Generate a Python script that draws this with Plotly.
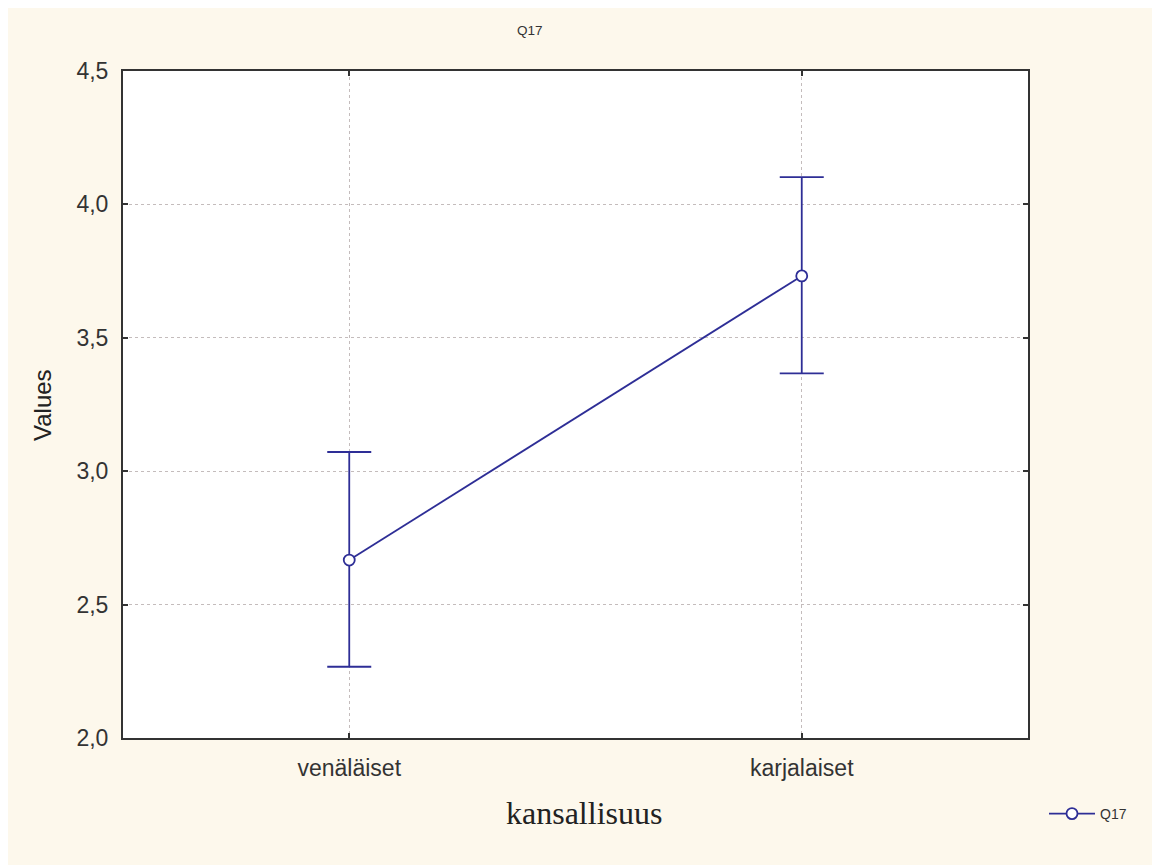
import plotly.graph_objects as go

categories = ["venäläiset", "karjalaiset"]
means = [2.667, 3.732]
err_plus = [0.405, 0.370]
err_minus = [0.400, 0.365]
ytick_vals = [2.0, 2.5, 3.0, 3.5, 4.0, 4.5]
ytick_text = ["2,0", "2,5", "3,0", "3,5", "4,0", "4,5"]
series_name = "Q17"

W, H = 1180, 885
L, T = 115, 63
R, B = W - 1020, H - 730
pw, ph = W - L - R, H - T - B

navy = "#2E2E96"
cream = "#FDF8EC"

fig = go.Figure()
fig.add_trace(go.Scatter(
    x=categories, y=means, name=series_name, mode="lines+markers",
    line=dict(color=navy, width=1.8),
    marker=dict(symbol="circle", size=11, color="white", line=dict(color=navy, width=1.8)),
    error_y=dict(type="data", symmetric=False, array=err_plus, arrayminus=err_minus,
                 color=navy, thickness=1.8, width=22),
))

def px2x(px):
    return (px - L) / pw

def px2y(py):
    return (H - B - py) / ph

fig.update_layout(
    width=W, height=H,
    margin=dict(l=L, r=R, t=T, b=B),
    paper_bgcolor=cream,
    plot_bgcolor="white",
    showlegend=True,
    separators=",.",
    font=dict(family="Liberation Sans, Arial, sans-serif", color="#333333"),
    xaxis=dict(
        type="category", range=[-0.5, 1.5],
        showline=True, linecolor="#333333", linewidth=2, mirror="ticks",
        ticks="inside", ticklen=5, tickcolor="#333333", tickwidth=1.5,
        showgrid=True, gridcolor="#c4bcbc", griddash="dot", gridwidth=1,
        tickfont=dict(size=23, color="#333333"), ticklabelstandoff=8,
        zeroline=False,
    ),
    yaxis=dict(
        range=[2.0, 4.5], tickvals=ytick_vals, ticktext=ytick_text,
        showline=True, linecolor="#333333", linewidth=2, mirror="ticks",
        ticks="inside", ticklen=5, tickcolor="#333333", tickwidth=1.5,
        showgrid=True, gridcolor="#c4bcbc", griddash="dot", gridwidth=1,
        tickfont=dict(size=23, color="#333333"), ticklabelstandoff=8,
        zeroline=False,
    ),
    legend=dict(
        x=px2x(1036), y=px2y(806), xanchor="left", yanchor="middle",
        xref="paper", yref="paper", itemwidth=46,
        bgcolor="rgba(0,0,0,0)", borderwidth=0,
        font=dict(size=14, color="#333333"),
    ),
    annotations=[
        dict(text="Q17", xref="paper", yref="paper", x=px2x(522), y=px2y(23),
             showarrow=False, font=dict(size=13.5, color="#333333"),
             xanchor="center", yanchor="middle"),
        dict(text="kansallisuus", xref="paper", yref="paper", x=px2x(576), y=px2y(805),
             showarrow=False, font=dict(size=32, family="Liberation Serif, Times New Roman, serif",
                                        color="#222222"),
             xanchor="center", yanchor="middle"),
        dict(text="Values", xref="paper", yref="paper", x=px2x(34), y=px2y(397),
             showarrow=False, textangle=-90, font=dict(size=24, color="#222222"),
             xanchor="center", yanchor="middle"),
    ],
)

fig.write_html("out.html")
